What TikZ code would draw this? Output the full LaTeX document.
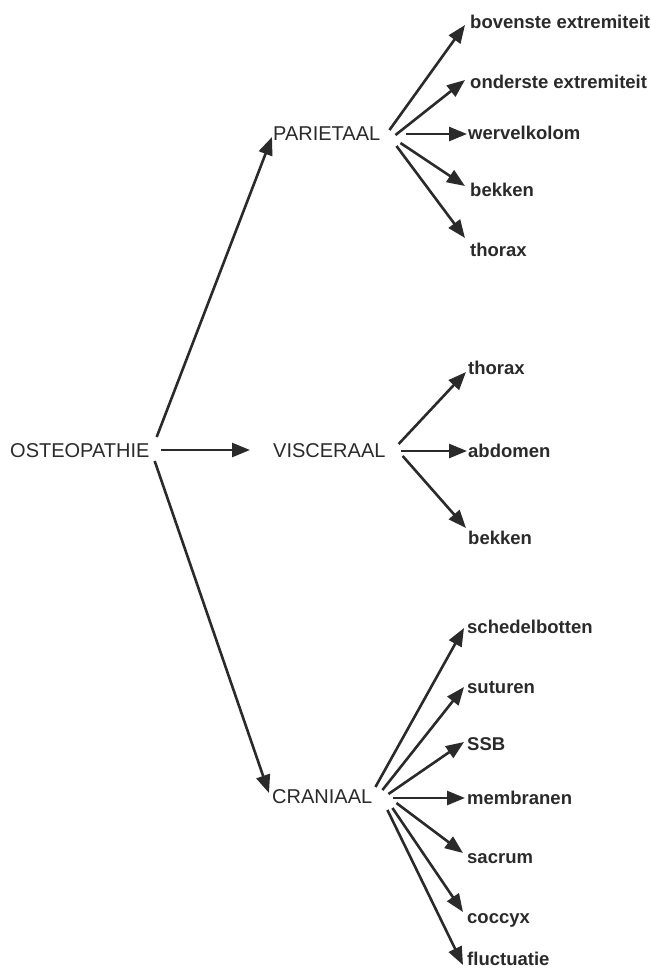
\documentclass[tikz,border=0pt]{standalone}
\usepackage{fontspec}
\setmainfont{Liberation Sans}
\usetikzlibrary{arrows.meta}
\definecolor{ink}{HTML}{2A2A2A}
\tikzset{
  parent/.style={anchor=west, inner sep=0pt, text height=14.3pt, text depth=0pt, text=ink, font=\fontsize{20}{24}\selectfont},
  child/.style={anchor=west, inner sep=0pt, text height=13.2pt, text depth=0pt, text=ink, font=\bfseries\fontsize{18.5}{22}\selectfont},
  link/.style={draw=ink, line width=2.6pt, -{Triangle[length=18pt,width=14pt]}}
}
\begin{document}
\begin{tikzpicture}[x=1pt,y=-1pt]
\useasboundingbox[fill=white] (0,0) rectangle (651,970);
% main nodes
\node[parent] (osteo) at (10,450) {OSTEOPATHIE};
\node[parent] (par) at (273,133) {PARIETAAL};
\node[parent] (vis) at (273,450) {VISCERAAL};
\node[parent] (cran) at (272,796) {CRANIAAL};
% parietaal children
\node[child] (pb) at (470,22) {bovenste extremiteit};
\node[child] (po) at (470,82) {onderste extremiteit};
\node[child] (pw) at (468,133) {wervelkolom};
\node[child] (pk) at (470,190) {bekken};
\node[child] (pt) at (470,250) {thorax};
% visceraal children
\node[child] (vt) at (468,368) {thorax};
\node[child] (va) at (468,451) {abdomen};
\node[child] (vb) at (468,538) {bekken};
% craniaal children
\node[child] (c1) at (467,627) {schedelbotten};
\node[child] (c2) at (467,687) {suturen};
\node[child] (c3) at (467,744) {SSB};
\node[child] (c4) at (467,798) {membranen};
\node[child] (c5) at (467,857) {sacrum};
\node[child] (c6) at (467,917) {coccyx};
\node[child] (c7) at (467,959) {fluctuatie};
% osteopathie arrows
\draw[link] ([shift={(7,-13)}]osteo.east) -- ([shift={(-1,4)}]par.west);
\draw[link] ([shift={(11,0)}]osteo.east) -- ([shift={(-23,0)}]vis.west);
\draw[link] ([shift={(5,11)}]osteo.east) -- ([shift={(-3,-3)}]cran.west);
% parietaal arrows
\draw[link] ([shift={(9,-3)}]par.east) -- ([shift={(-5,3)}]pb.west);
\draw[link] ([shift={(15,2)}]par.east) -- ([shift={(-5,-2)}]po.west);
\draw[link] ([shift={(26,1)}]par.east) -- ([shift={(-1,1)}]pw.west);
\draw[link] ([shift={(20,10)}]par.east) -- ([shift={(-5,-4)}]pk.west);
\draw[link] ([shift={(16,13)}]par.east) -- ([shift={(-5,-12)}]pt.west);
% visceraal arrows
\draw[link] ([shift={(13,-6)}]vis.east) -- ([shift={(-2,4)}]vt.west);
\draw[link] ([shift={(15,1)}]vis.east) -- ([shift={(-1,0)}]va.west);
\draw[link] ([shift={(17,6)}]vis.east) -- ([shift={(-2,-10)}]vb.west);
% craniaal arrows
\draw[link] ([shift={(3,-9)}]cran.east) -- ([shift={(-3,1)}]c1.west);
\draw[link] ([shift={(10,-6)}]cran.east) -- ([shift={(-3,0)}]c2.west);
\draw[link] ([shift={(16,-2)}]cran.east) -- ([shift={(-3,-2)}]c3.west);
\draw[link] ([shift={(21,2)}]cran.east) -- ([shift={(-2,0)}]c4.west);
\draw[link] ([shift={(24,7)}]cran.east) -- ([shift={(-4,-4)}]c5.west);
\draw[link] ([shift={(20,12)}]cran.east) -- ([shift={(-4,-5)}]c6.west);
\draw[link] ([shift={(15,14)}]cran.east) -- ([shift={(-4,6)}]c7.west);
\end{tikzpicture}
\end{document}
